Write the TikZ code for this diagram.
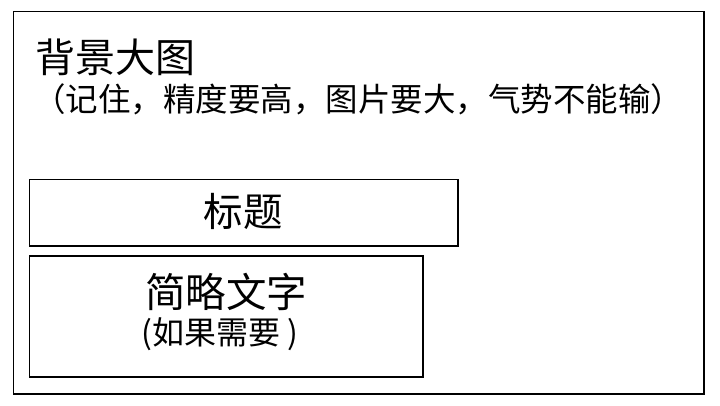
\documentclass[tikz,border=0pt]{standalone}
\usepackage{fontspec}
\newfontfamily\cjk{Noto Sans CJK SC}
\begin{document}
\begin{tikzpicture}[x=1pt,y=-1pt,
  frame/.style={draw=black,line width=1.2pt,fill=white},
  txt/.style={font=\cjk,inner sep=0pt,text=black}]
\useasboundingbox[fill=white] (0,0) rectangle (720,405);
\draw[frame] (13.5,11.5) rectangle (704,394);
\draw[frame] (29.5,179.5) rectangle (458,246);
\draw[frame] (29.5,256) rectangle (423,377);
\node[txt,anchor=base west,font=\cjk\fontsize{40}{44}\selectfont] (bg) at (35,72) {背景大图};
\node[txt,anchor=base west,font=\cjk\fontsize{32.5}{36}\selectfont] (note) at (33,111) {（记住，精度要高，图片要大，气势不能输）};
\node[txt,font=\cjk\fontsize{39.5}{42}\selectfont] (title) at (243,211) {标题};
\node[txt,font=\cjk\fontsize{40.5}{44}\selectfont] (summary) at (226,292) {简略文字};
\node[txt,font=\cjk\fontsize{32}{36}\selectfont] (opt) at (220,334) {(如果需要 )};
\end{tikzpicture}
\end{document}
